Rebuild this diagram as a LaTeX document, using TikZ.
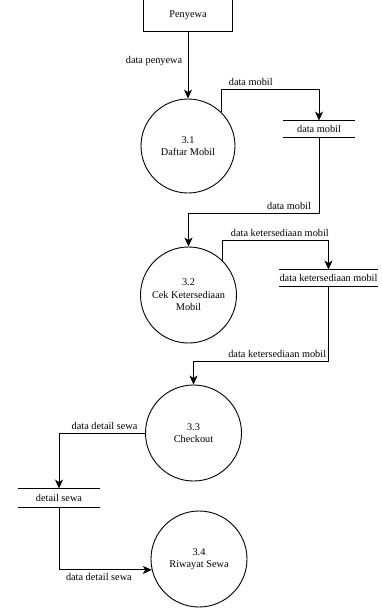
\documentclass[tikz,border=0pt]{standalone}
\usepackage{fontspec}
\setmainfont{Liberation Serif}
\usetikzlibrary{arrows.meta}
\tikzset{
  process/.style={draw, circle, minimum size=96pt, inner sep=0pt, align=center},
  entity/.style={draw, rectangle, minimum width=89pt, minimum height=32pt},
  datastore/.style={minimum height=16pt, inner sep=0pt,
    append after command={(\tikzlastnode.north west) edge[-] (\tikzlastnode.north east)
      (\tikzlastnode.south west) edge[-] (\tikzlastnode.south east)}},
  flow/.style={-{Stealth[length=9pt,width=8pt,inset=2.5pt]}},
}
\begin{document}
\begin{tikzpicture}[x=1pt, y=-1pt, font=\fontsize{10.3}{12.5}\selectfont, line width=0.9pt]
  \useasboundingbox (0,0) rectangle (382,608);
  \node[entity] (penyewa) at (188,15) {Penyewa};
  \node[process, minimum size=94pt] (p1) at (188,146) {3.1\\Daftar Mobil};
  \node[datastore, minimum width=72pt] (s1) at (319,129) {data mobil};
  \node[process] (p2) at (188.5,295) {3.2\\Cek Ketersediaan\\Mobil};
  \node[datastore, minimum width=95pt] (s2) at (328.5,278) {data ketersediaan mobil};
  \node[process] (p3) at (193.5,433) {3.3\\Checkout};
  \node[datastore, minimum width=82pt, minimum height=18pt] (s3) at (59,498) {detail sewa};
  \node[process] (p4) at (199,559) {3.4\\Riwayat Sewa};
  \begin{scope}[flow]
    \draw (penyewa.south) -- node[pos=0.44, left=2pt] (l1) {data penyewa} (p1.north);
    \draw (p1.45) -- ++(0,-23) -| node[pos=0.15, above] (l2) {data mobil} (s1.north);
    \draw (s1.south) -- ++(0,76) -| node[pos=0.115, above] (l3) {data mobil} (p2.north);
    \draw (p2.45) -- ++(0,-20) -| node[pos=0.27, above] (l4) {data ketersediaan mobil} (s2.north);
    \draw (s2.south) -- ++(0,75) -| node[pos=0.19, above] (l5) {data ketersediaan mobil} (p3.north);
    \draw (p3.west) -| node[pos=0.235, above] (l6) {data detail sewa} (s3.north);
    \draw (s3.south) |- node[pos=0.715, below] (l7) {data detail sewa} (p4.193);
  \end{scope}
\end{tikzpicture}
\end{document}
